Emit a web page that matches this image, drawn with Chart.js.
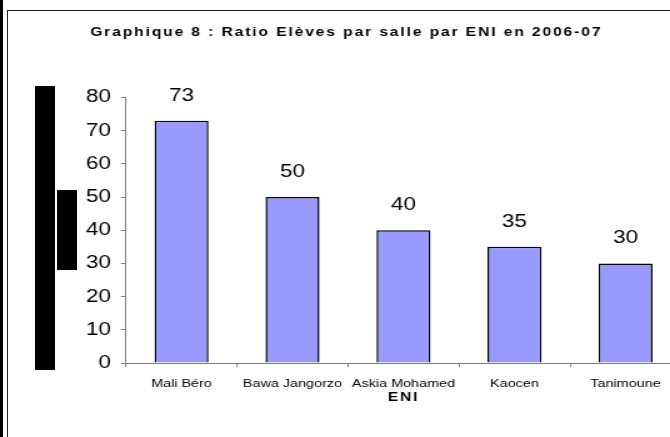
<!DOCTYPE html>
<html>
<head>
<meta charset="utf-8">
<script src="https://cdn.jsdelivr.net/npm/chart.js@4/dist/chart.umd.min.js"></script>
<style>
  html, body { margin: 0; padding: 0; background: #fff; overflow: hidden; width: 670px; height: 437px; }
  #wrap { position: absolute; left: 0; top: 0; width: 560px; height: 437px; transform: scaleX(1.25); transform-origin: 0 0; }
  .ln { position: absolute; background: #000; }
</style>
</head>
<body>
<div class="ln" style="left:0;top:0;width:3px;height:437px;"></div>
<div class="ln" style="left:7px;top:10px;width:1px;height:427px;background:#222;"></div>
<div class="ln" style="left:7px;top:10px;width:663px;height:1px;background:#222;"></div>
<div class="ln" style="left:35px;top:86px;width:20px;height:284px;"></div>
<div class="ln" style="left:57px;top:190px;width:20px;height:80px;"></div>
<div id="wrap"><canvas id="c" width="560" height="437"></canvas></div>
<script>
const categories = ["Mali Béro", "Bawa Jangorzo", "Askia Mohamed", "Kaocen", "Tanimoune"];
const ratios = [73, 50, 40, 35, 30];
const yTicks = [0, 10, 20, 30, 40, 50, 60, 70, 80];
const chartTitle = "Graphique 8 : Ratio Elèves par salle par ENI en 2006-07";
const xTitle = "ENI";

const FONT = "'Liberation Sans', Arial, sans-serif";

const overlay = {
  id: 'overlay',
  afterDatasetsDraw(chart) {
    const ctx = chart.ctx;
    const meta = chart.getDatasetMeta(0);
    ctx.save();
    ctx.fillStyle = '#000';
    ctx.font = "18px " + FONT;
    ctx.textAlign = 'center';
    ctx.textBaseline = 'alphabetic';
    meta.data.forEach((bar, i) => {
      ctx.fillText(String(ratios[i]), bar.x, bar.y - 20);
    });
    ctx.restore();
  },
  afterDraw(chart) {
    const ctx = chart.ctx;
    const a = chart.chartArea;
    ctx.save();
    ctx.fillStyle = '#000';
    ctx.textAlign = 'center';
    ctx.textBaseline = 'alphabetic';
    ctx.font = "bold 12.5px " + FONT;
    ctx.letterSpacing = '1.5px';
    ctx.fillText(chartTitle, 277, 36);
    ctx.font = "bold 12.5px " + FONT;
    ctx.letterSpacing = '1.5px';
    ctx.fillText(xTitle, (a.left + a.right) / 2, 401);
    ctx.restore();
  }
};

new Chart(document.getElementById('c'), {
  type: 'bar',
  data: {
    labels: categories,
    datasets: [{
      data: ratios,
      backgroundColor: '#9999FF',
      borderColor: '#000',
      borderWidth: 1.5,
      barPercentage: 0.486,
      categoryPercentage: 1
    }]
  },
  options: {
    responsive: false,
    animation: false,
    devicePixelRatio: 1,
    layout: { padding: { left: 0, right: 15.2, top: 97.5, bottom: 0 } },
    plugins: { legend: { display: false }, title: { display: false }, tooltip: { enabled: false } },
    scales: {
      x: {
        afterFit(s) { s.height = 74; },
        grid: { drawOnChartArea: false, drawTicks: true, tickLength: 4, color: '#808080', offset: true },
        border: { color: '#808080', width: 1 },
        ticks: { color: '#000', font: { family: FONT, size: 11.5 }, padding: 10, maxRotation: 0, autoSkip: false }
      },
      y: {
        min: 0, max: 80,
        afterFit(s) { s.width = 100.8; },
        afterBuildTicks(s) { s.ticks = yTicks.map(v => ({ value: v })); },
        grid: { drawOnChartArea: false, drawTicks: true, tickLength: 4, color: '#808080' },
        border: { color: '#808080', width: 1 },
        ticks: { color: '#000', font: { family: FONT, size: 18 }, padding: 8 }
      }
    }
  },
  plugins: [overlay]
});
</script>
</body>
</html>
